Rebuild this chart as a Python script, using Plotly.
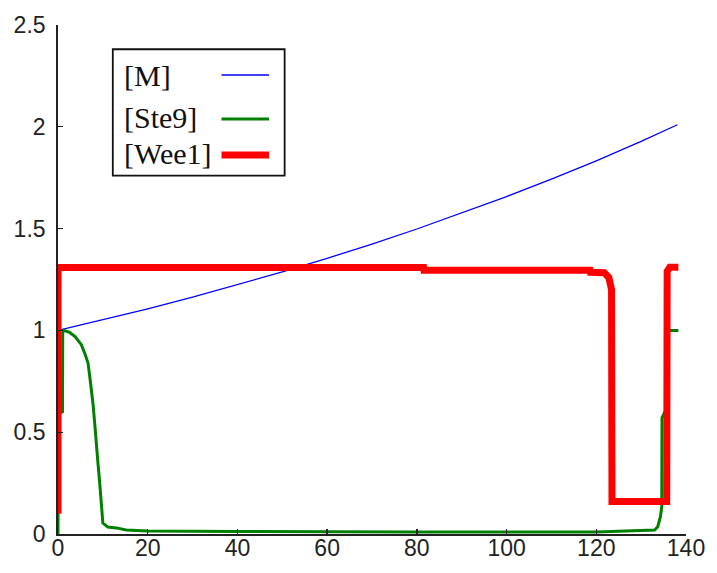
import plotly.graph_objects as go

# ---- data ----
M_t = [0, 10, 20, 30, 40, 50, 60, 70, 80, 90, 100, 110, 120, 130, 138.1]
M_v = [1.000, 1.052, 1.106, 1.164, 1.224, 1.287, 1.354, 1.424, 1.498, 1.576,
       1.657, 1.743, 1.833, 1.928, 2.010]

Ste9_t = [0, 0.02, 1.0, 1.05, 1.3, 2.6, 3.8, 5.2, 6.0, 6.7, 7.1, 7.5, 7.8, 8.2, 8.6,
          8.9, 9.3, 9.7, 10.0, 11.1, 13.0, 15.2, 20, 40, 60, 80, 100, 120,
          133.0, 133.7, 134.3, 134.6, 134.65, 135.7, 135.8, 138.3]
Ste9_v = [0, 0.59, 0.60, 0.99, 1.00, 0.99, 0.97, 0.93, 0.885, 0.84, 0.77, 0.70, 0.64,
          0.54, 0.45, 0.35, 0.25, 0.13, 0.054, 0.034, 0.03, 0.02, 0.015, 0.012,
          0.01, 0.01, 0.01, 0.01, 0.02, 0.036, 0.085, 0.134, 0.57, 0.62, 1.0, 1.0]

Wee1_t = [0, 0.01, 20, 81.5, 81.6, 118.6, 118.7, 121.8, 122.8, 123.4, 123.5,
          135.7, 135.8, 136.4, 138.3]
Wee1_v = [0.10, 1.309, 1.309, 1.309, 1.295, 1.295, 1.285, 1.283, 1.26, 1.20, 0.16,
          0.16, 1.29, 1.31, 1.31]

x_ticks = [0, 20, 40, 60, 80, 100, 120, 140]
x_tick_labels = ["0", "20", "40", "60", "80", "100", "120", "140"]
y_ticks = [0, 0.5, 1, 1.5, 2, 2.5]
y_tick_labels = ["0", "0.5", "1", "1.5", "2", "2.5"]

series_names = ["[M]", "[Ste9]", "[Wee1]"]
series_colors = ["#0000ff", "#008000", "#ff0000"]
series_widths = [1.3, 3, 7]

# ---- figure ----
W, H = 717, 573
L, R, T, B = 58, 25.3, 24, 39

fig = go.Figure()
for t, v, name, col, w in zip([M_t, Ste9_t, Wee1_t], [M_v, Ste9_v, Wee1_v],
                              series_names, series_colors, series_widths):
    fig.add_trace(go.Scatter(x=t, y=v, mode="lines", name=name,
                             line=dict(color=col, width=w),
                             showlegend=False, hoverinfo="skip"))

tick_font = dict(family="Liberation Sans, Arial, sans-serif", size=23, color="#222")
fig.update_xaxes(range=[0, 140], tickvals=x_ticks, ticktext=x_tick_labels,
                 ticks="inside", ticklen=5, tickwidth=1.3, tickcolor="#222",
                 showline=True, linecolor="#222", linewidth=1.8,
                 showgrid=False, zeroline=False, tickfont=tick_font,
                 ticklabelstandoff=-7, ticklabeloverflow="allow")
fig.update_yaxes(range=[0, 2.5], tickvals=y_ticks, ticktext=y_tick_labels,
                 ticks="inside", ticklen=5, tickwidth=1.3, tickcolor="#222",
                 showline=True, linecolor="#222", linewidth=1.8,
                 showgrid=False, zeroline=False, tickfont=tick_font,
                 ticklabelstandoff=6, ticklabeloverflow="allow")

# ---- custom legend (text left, line sample right) ----
pw, ph = W - L - R, H - T - B
def px(x):
    return (x - L) / pw
def py(y):
    return (H - B - y) / ph

shapes = [dict(type="rect", xref="paper", yref="paper",
               x0=px(113.3), x1=px(286.7), y0=py(175), y1=py(48.3),
               line=dict(color="#111", width=1.8), fillcolor="white", layer="above")]
annotations = []
row_y = [75, 116.7, 152.5]
line_y = [74, 118.3, 154.3]
for name, col, w, ty, ly in zip(series_names, series_colors, series_widths, row_y, line_y):
    annotations.append(dict(xref="paper", yref="paper", x=px(123), y=py(ty),
                            text=name, showarrow=False, xanchor="left", yanchor="middle",
                            font=dict(family="Liberation Serif, Times New Roman, serif",
                                      size=30, color="#111")))
    shapes.append(dict(type="line", xref="paper", yref="paper",
                       x0=px(223), x1=px(271), y0=py(ly), y1=py(ly),
                       line=dict(color=col, width=max(w, 1.5)), layer="above"))

fig.update_layout(width=W, height=H, autosize=False,
                  margin=dict(l=L, r=R, t=T, b=B, pad=0),
                  paper_bgcolor="white", plot_bgcolor="white",
                  shapes=shapes, annotations=annotations, showlegend=False)

fig.write_html("out.html",
               config={"displayModeBar": False, "staticPlot": True, "responsive": False},
               post_script="document.documentElement.style.margin='0';"
                           "document.body.style.margin='0';"
                           "document.body.style.overflow='hidden';")
